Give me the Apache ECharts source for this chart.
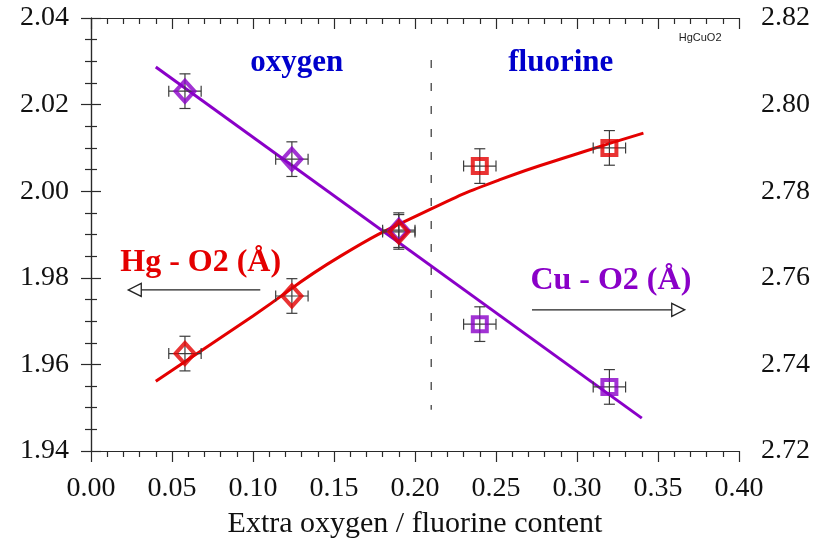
<!DOCTYPE html>
<html>
<head>
<meta charset="utf-8">
<script src="https://cdn.jsdelivr.net/npm/echarts@6/dist/echarts.min.js"></script>
<style>
  html, body { margin: 0; padding: 0; background: #fff; }
  #chart { width: 826px; height: 542px; }
</style>
</head>
<body>
<div id="chart"></div>
<script>
// Extra oxygen / fluorine content of each sample
const content = [0.058, 0.124, 0.19, 0.24, 0.32];
const dopant  = ['oxygen', 'oxygen', 'oxygen', 'fluorine', 'fluorine'];
// Bond lengths (Å)
const hgO2 = [1.9625, 1.9758, 1.9906, 2.0058, 2.0100];
const cuO2 = [2.8031, 2.7874, 2.7710, 2.7493, 2.7348];
// Uncertainties
const contentErr = [0.01, 0.01, 0.01, 0.01, 0.01];
const hgO2Err    = [0.004, 0.004, 0.004, 0.004, 0.004];
const cuO2Err    = [0.004, 0.004, 0.004, 0.004, 0.004];
// Guide curves
const hgFitX = [0.04, 0.10, 0.154, 0.21, 0.252, 0.304, 0.341];
const hgFitY = [1.9561, 1.9712, 1.9850, 1.9959, 2.0026, 2.0091, 2.0134];
const cuFitX = [0.04, 0.34];
const cuFitY = [2.8087, 2.7276];
// Oxygen / fluorine boundary
const boundaryX = [0.21, 0.21];
const boundaryY = [2.0303, 1.9495];
// Axis ticks
const xTicks     = ['0.00', '0.05', '0.10', '0.15', '0.20', '0.25', '0.30', '0.35', '0.40'];
const leftTicks  = ['1.94', '1.96', '1.98', '2.00', '2.02', '2.04'];
const rightTicks = ['2.72', '2.74', '2.76', '2.78', '2.80', '2.82'];

const RED = '#e40000';
const PURPLE = '#8a00c8';
const BLUE = '#0000cc';
const INK = '#2a2a2a';
const SERIF = '"Liberation Serif", "Times New Roman", serif';

const num = s => parseFloat(s);
const pairs = (xs, ys) => xs.map((x, i) => [x, ys[i]]);

function axisRange(ticks) {
  return { min: num(ticks[0]), max: num(ticks[ticks.length - 1]), interval: num(ticks[1]) - num(ticks[0]) };
}

function errorBars(yAxisIndex, ys, yErr) {
  return {
    type: 'custom',
    xAxisIndex: 0,
    yAxisIndex,
    z: 3,
    silent: true,
    data: content.map((x, i) => [x, ys[i], contentErr[i], yErr[i]]),
    renderItem(params, api) {
      const x = api.value(0), y = api.value(1), ex = api.value(2), ey = api.value(3);
      const c = api.coord([x, y]);
      const l = api.coord([x - ex, y]), r = api.coord([x + ex, y]);
      const t = api.coord([x, y + ey]), b = api.coord([x, y - ey]);
      const cap = 5.5;
      const style = { stroke: '#3c3c3c', lineWidth: 1.2 };
      const seg = (x1, y1, x2, y2) => ({ type: 'line', shape: { x1, y1, x2, y2 }, style });
      return {
        type: 'group',
        children: [
          seg(l[0], c[1], r[0], c[1]),
          seg(l[0], c[1] - cap, l[0], c[1] + cap),
          seg(r[0], c[1] - cap, r[0], c[1] + cap),
          seg(c[0], t[1], c[0], b[1]),
          seg(c[0] - cap, t[1], c[0] + cap, t[1]),
          seg(c[0] - cap, b[1], c[0] + cap, b[1])
        ]
      };
    }
  };
}

function markers(yAxisIndex, ys, color) {
  return {
    type: 'scatter',
    xAxisIndex: 0,
    yAxisIndex,
    z: 5,
    data: content.map((x, i) => ({
      value: [x, ys[i]],
      symbol: dopant[i] === 'oxygen' ? 'diamond' : 'rect',
      symbolSize: dopant[i] === 'oxygen' ? [19, 21] : [14, 14]
    })),
    itemStyle: { color: 'rgba(255,255,255,0)', borderColor: color, borderWidth: 4 }
  };
}

const xr = axisRange(xTicks), lr = axisRange(leftTicks), rr = axisRange(rightTicks);

const axisLine = { show: true, lineStyle: { color: INK, width: 1.2 } };
const labelFont = { fontFamily: SERIF, fontSize: 28, color: '#111' };

const chart = echarts.init(document.getElementById('chart'));
chart.setOption({
  backgroundColor: '#fff',
  animation: false,
  grid: { left: 91, right: 87, top: 18, bottom: 91, containLabel: false, outerBoundsMode: 'none' },
  xAxis: [
    {
      type: 'value', position: 'bottom', min: xr.min, max: xr.max, interval: xr.interval,
      axisLine, splitLine: { show: false },
      axisTick: { show: true, length: 11, lineStyle: { color: INK, width: 1.2 } },
      minorTick: { show: true, splitNumber: 5, length: 6, lineStyle: { color: INK, width: 1.2 } },
      axisLabel: Object.assign({ margin: 24, formatter: v => v.toFixed(2) }, labelFont),
      name: 'Extra oxygen / fluorine content',
      nameLocation: 'middle', nameGap: 58,
      nameTextStyle: { fontFamily: SERIF, fontSize: 30, color: '#111' }
    },
    {
      type: 'value', position: 'top', min: xr.min, max: xr.max, interval: xr.interval,
      axisLine, splitLine: { show: false },
      axisTick: { show: true, inside: true, length: 11, lineStyle: { color: INK, width: 1.2 } },
      minorTick: { show: true, splitNumber: 5, length: 6, lineStyle: { color: INK, width: 1.2 } },
      axisLabel: { show: false }
    }
  ],
  yAxis: [
    {
      type: 'value', position: 'left', min: lr.min, max: lr.max, interval: lr.interval,
      axisLine, splitLine: { show: false },
      axisTick: { show: true, length: 10, lineStyle: { color: INK, width: 1.2 } },
      minorTick: { show: true, splitNumber: 4, length: 6, lineStyle: { color: INK, width: 1.2 } },
      axisLabel: Object.assign({ margin: 22, formatter: v => v.toFixed(2) }, labelFont)
    },
    {
      type: 'value', position: 'right', min: rr.min, max: rr.max, interval: rr.interval,
      axisLine, splitLine: { show: false },
      axisTick: { show: true, length: 10, lineStyle: { color: INK, width: 1.2 } },
      minorTick: { show: true, splitNumber: 4, length: 6, lineStyle: { color: INK, width: 1.2 } },
      axisLabel: Object.assign({ margin: 22, formatter: v => v.toFixed(2) }, labelFont)
    }
  ],
  series: [
    {
      type: 'line', xAxisIndex: 0, yAxisIndex: 0, z: 1, silent: true,
      data: pairs(boundaryX, boundaryY), symbol: 'none',
      lineStyle: { color: '#333', width: 1.2, type: [8, 15] }
    },
    {
      type: 'line', xAxisIndex: 0, yAxisIndex: 1, z: 2, silent: true,
      data: pairs(cuFitX, cuFitY), symbol: 'none',
      lineStyle: { color: PURPLE, width: 3 }
    },
    {
      type: 'line', xAxisIndex: 0, yAxisIndex: 0, z: 2, silent: true,
      data: pairs(hgFitX, hgFitY), symbol: 'none', smooth: 0.5,
      lineStyle: { color: RED, width: 3 }
    },
    errorBars(1, cuO2, cuO2Err),
    errorBars(0, hgO2, hgO2Err),
    markers(1, cuO2, PURPLE),
    markers(0, hgO2, RED)
  ]
});

// Annotations placed in data units (bottom x axis, left y axis)
const notes = [
  { text: 'oxygen',       at: [0.127, 2.0296], font: 'bold 31px ' + SERIF, color: BLUE },
  { text: 'fluorine',     at: [0.290, 2.0296], font: 'bold 31px ' + SERIF, color: BLUE },
  { text: 'HgCuO2',       at: [0.376, 2.0354], font: '11px "Liberation Sans", Arial, sans-serif', color: '#222' },
  { text: 'Hg - O2 (Å)',  at: [0.0677, 1.9835], font: 'bold 32px ' + SERIF, color: RED },
  { text: 'Cu - O2 (Å)',  at: [0.3209, 1.9793], font: 'bold 32px ' + SERIF, color: PURPLE }
];
const arrows = [
  { from: [0.1045, 1.9772], to: [0.023, 1.9772] },
  { from: [0.2722, 1.9726], to: [0.3665, 1.9726] }
];

function drawAnnotations() {
  const px = p => chart.convertToPixel({ xAxisIndex: 0, yAxisIndex: 0 }, p);
  const elements = [];
  notes.forEach(n => {
    const p = px(n.at);
    elements.push({
      type: 'text', x: p[0], y: p[1], z: 10,
      style: { text: n.text, font: n.font, fill: n.color, align: 'center', verticalAlign: 'middle' }
    });
  });
  arrows.forEach(a => {
    const s = px(a.from), e = px(a.to);
    const dir = Math.sign(e[0] - s[0]);
    const headLen = 13, half = 6.5;
    const base = e[0] - dir * headLen;
    elements.push({
      type: 'line', z: 10,
      shape: { x1: s[0], y1: s[1], x2: base, y2: e[1] },
      style: { stroke: '#222', lineWidth: 1.3 }
    });
    elements.push({
      type: 'polygon', z: 10,
      shape: { points: [[base, e[1] - half], [e[0], e[1]], [base, e[1] + half]] },
      style: { fill: '#fff', stroke: '#222', lineWidth: 1.3 }
    });
  });
  chart.setOption({ graphic: { elements } });
}
drawAnnotations();
</script>
</body>
</html>
